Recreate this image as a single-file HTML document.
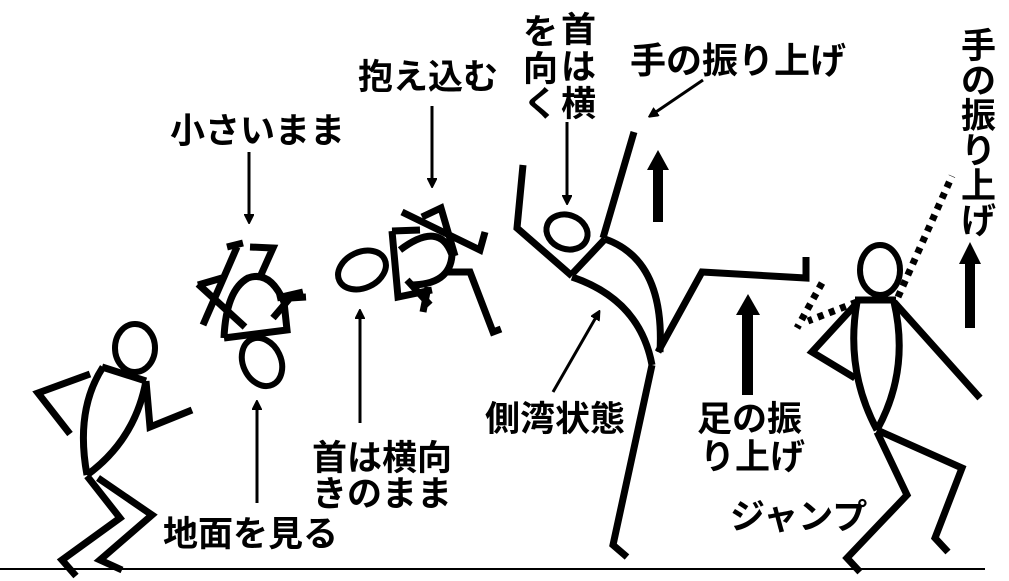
<!DOCTYPE html>
<html><head><meta charset="utf-8"><style>
html,body{margin:0;padding:0;background:#fff;}
svg{display:block;}
text{font-family:"Liberation Sans","Noto Sans CJK JP",sans-serif;font-weight:bold;fill:#000;}
</style></head><body>
<svg width="1009" height="581" viewBox="0 0 1009 581" xmlns="http://www.w3.org/2000/svg">
<defs>
<marker id="ah" markerWidth="10" markerHeight="10" refX="8" refY="5" orient="auto" markerUnits="userSpaceOnUse">
<path d="M0,0 L10,5 L0,10 Z" fill="#000" transform="scale(1.4) translate(-2,-1.5)"/>
</marker>
</defs>
<line x1="0" y1="569" x2="985" y2="569" stroke="#000" stroke-width="2"/>
<g fill="none" stroke="#000" stroke-width="7" stroke-linejoin="miter">
<!-- fig1 -->
<ellipse cx="135" cy="348" rx="20" ry="24" stroke-width="6"/>
<line x1="102" y1="367" x2="146" y2="381"/>
<path d="M103,367 Q75,410 87,475"/>
<path d="M146,381 Q135,440 87,475"/>
<polyline points="90,374 38,393 70,434"/>
<polyline points="146,381 150,427 192,410"/>
<polyline points="98,478 152,515 100,560 122,570"/>
<polyline points="87,476 120,518 62,560 76,576"/>
<!-- fig2 -->
<ellipse cx="262" cy="362" rx="19" ry="25" transform="rotate(-25 262 362)" stroke-width="6"/>
<line x1="203" y1="325" x2="237" y2="247"/>
<line x1="227" y1="247" x2="243" y2="243"/>
<polyline points="250,247 273,248 260,277"/>
<polyline points="198,285 222,278"/>
<polyline points="198,284 245,327"/>
<path d="M224,338 L287,330 L284,302 Q270,270 248,278 Q226,290 224,338"/>
<polyline points="273,318 290,298 306,297"/>
<line x1="277" y1="298" x2="303" y2="292"/>
<!-- fig3 -->
<ellipse cx="362" cy="270" rx="25" ry="18" transform="rotate(-25 362 270)" stroke-width="6"/>
<polyline points="392,231 420,230"/>
<polyline points="392,231 398,297 432,290"/>
<path d="M400,250 Q440,220 452,255 Q450,285 410,285"/>
<polyline points="402,212 480,250 485,232"/>
<polyline points="422,217 441,208 455,256"/>
<polyline points="448,272 470,272 493,332 501,329"/>
<polyline points="407,280 430,305"/>
<line x1="428" y1="287" x2="423" y2="312"/>
<!-- fig4 -->
<ellipse cx="567" cy="232" rx="21" ry="17" transform="rotate(20 567 232)" stroke-width="6"/>
<polyline points="523,165 517,228 572,276"/>
<line x1="634" y1="132" x2="603" y2="238"/>
<line x1="573" y1="273" x2="605" y2="239"/>
<path d="M572,277 Q640,300 652,365"/>
<path d="M605,239 Q665,260 660,352"/>
<polyline points="652,365 613,545 627,557"/>
<polyline points="658,352 702,272 806,278 806,257"/>
<!-- fig5 -->
<ellipse cx="880" cy="270" rx="20" ry="25" stroke-width="6"/>
<line x1="855" y1="300" x2="896" y2="300"/>
<path d="M857,302 Q845,370 877,430"/>
<path d="M894,302 Q910,370 877,430"/>
<polyline points="857,303 812,352 855,378"/>
<line x1="894" y1="302" x2="980" y2="398"/>
<polyline points="877,430 962,468 935,538 948,552"/>
<polyline points="877,432 907,495 847,558 860,572"/>
<g stroke-dasharray="6 6">
<line x1="898" y1="297" x2="952" y2="176"/>
<line x1="857" y1="302" x2="808" y2="321"/>
<line x1="822" y1="283" x2="797" y2="328"/>
</g>
</g>
<!-- thin arrows -->
<g stroke="#000" stroke-width="3" marker-end="url(#ah)">
<line x1="249" y1="152" x2="249" y2="222"/>
<line x1="432" y1="106" x2="432" y2="186"/>
<line x1="257" y1="503" x2="257" y2="402"/>
<line x1="360" y1="423" x2="360" y2="311"/>
<line x1="567" y1="122" x2="567" y2="203"/>
<line x1="703" y1="80" x2="650" y2="116"/>
<line x1="553" y1="392" x2="599" y2="312"/>
</g>
<!-- thick arrows -->
<g fill="#000">
<rect x="653" y="168" width="10" height="54"/><path d="M647,170 L658,150 L669,170 Z"/>
<rect x="742" y="313" width="11" height="82"/><path d="M736,315 L748,294 L760,315 Z"/>
<rect x="965" y="262" width="10" height="66"/><path d="M959,264 L970,242 L981,264 Z"/>
</g>
<g font-size="35">
<text x="170" y="143">小さいまま</text>
<text x="358" y="89">抱え込む</text>
<text x="163" y="546">地面を見る</text>
<text x="312" y="470">首は横向</text>
<text x="312" y="506">きのまま</text>
<text x="485" y="431">側湾状態</text>
<text x="697" y="431">足の振</text>
<text x="700" y="469">り上げ</text>
<text x="730" y="529">ジャンプ</text>
<text x="630" y="73" font-size="36">手の振り上げ</text>
<text x="561" y="42">首</text>
<text x="561" y="79">は</text>
<text x="561" y="116">横</text>
<text x="523" y="44">を</text>
<text x="523" y="81">向</text>
<text x="523" y="116">く</text>
<text x="961" y="58">手</text>
<text x="961" y="93">の</text>
<text x="961" y="128">振</text>
<text x="961" y="163">り</text>
<text x="961" y="198">上</text>
<text x="961" y="233">げ</text>
</g>
</svg>
</body></html>
